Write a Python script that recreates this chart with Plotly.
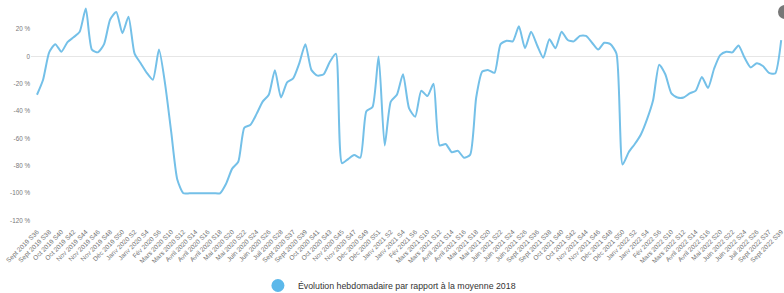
import plotly.graph_objects as go

categories = [
    "Sept 2019 S36", "Sept 2019 S37", "Sept 2019 S38", "Sept 2019 S39", "Oct 2019 S40", "Oct 2019 S41",
    "Oct 2019 S42", "Oct 2019 S43", "Nov 2019 S44", "Nov 2019 S45", "Nov 2019 S46", "Nov 2019 S47",
    "Nov 2019 S48", "Nov 2019 S49", "Déc 2019 S50", "Déc 2019 S51",
    "Janv 2020 S2", "Janv 2020 S3", "Janv 2020 S4", "Janv 2020 S5", "Fév 2020 S6", "Fév 2020 S7",
    "Mars 2020 S10", "Mars 2020 S11", "Mars 2020 S12", "Mars 2020 S13", "Avril 2020 S14", "Avril 2020 S15",
    "Avril 2020 S16", "Avril 2020 S17", "Avril 2020 S18", "Avril 2020 S19", "Mai 2020 S20", "Mai 2020 S21",
    "Mai 2020 S22", "Mai 2020 S23", "Juin 2020 S24", "Juin 2020 S25", "Juin 2020 S26", "Juin 2020 S27",
    "Juil 2020 S28", "Juil 2020 S29",
    "Sept 2020 S37", "Sept 2020 S38", "Sept 2020 S39", "Sept 2020 S40", "Oct 2020 S41", "Oct 2020 S42",
    "Oct 2020 S43", "Oct 2020 S44", "Nov 2020 S45", "Nov 2020 S46", "Nov 2020 S47", "Nov 2020 S48",
    "Déc 2020 S49", "Déc 2020 S50", "Déc 2020 S51", "Déc 2020 S52",
    "Janv 2021 S2", "Janv 2021 S3", "Janv 2021 S4", "Janv 2021 S5", "Fév 2021 S6", "Fév 2021 S7",
    "Mars 2021 S10", "Mars 2021 S11", "Mars 2021 S12", "Mars 2021 S13", "Avril 2021 S14", "Avril 2021 S15",
    "Avril 2021 S16", "Avril 2021 S17", "Mai 2021 S18", "Mai 2021 S19", "Mai 2021 S20", "Mai 2021 S21",
    "Juin 2021 S22", "Juin 2021 S23", "Juin 2021 S24", "Juin 2021 S25", "Juin 2021 S26", "Juil 2021 S27",
    "Sept 2021 S36", "Sept 2021 S37", "Sept 2021 S38", "Sept 2021 S39", "Oct 2021 S40", "Oct 2021 S41",
    "Oct 2021 S42", "Oct 2021 S43", "Nov 2021 S44", "Nov 2021 S45", "Nov 2021 S46", "Nov 2021 S47",
    "Déc 2021 S48", "Déc 2021 S49", "Déc 2021 S50", "Déc 2021 S51",
    "Janv 2022 S2", "Janv 2022 S3", "Janv 2022 S4", "Janv 2022 S5", "Fév 2022 S6", "Fév 2022 S7",
    "Mars 2022 S10", "Mars 2022 S11", "Mars 2022 S12", "Mars 2022 S13", "Avril 2022 S14", "Avril 2022 S15",
    "Avril 2022 S16", "Avril 2022 S17", "Mai 2022 S20", "Mai 2022 S21", "Juin 2022 S22", "Juin 2022 S23",
    "Juin 2022 S24", "Juin 2022 S25", "Juil 2022 S26", "Juil 2022 S27",
    "Sept 2022 S37", "Sept 2022 S38", "Sept 2022 S39",
]

evolution = [
    -28, -17, 3, 9, 3.5, 10.5, 14, 18, 35, 5, 3, 9, 27, 32.5, 17, 29,
    2, -5, -12, -17, 5, -20, -55, -90, -100, -100, -100, -100, -100, -100,
    -100, -93, -82, -77, -52, -50, -42, -33, -28, -10, -30, -19,
    -16, -5, 9, -10, -14, -13, -4, 2, -78, -75, -72, -74, -40, -37, 0, -65,
    -33, -28, -13, -38, -44, -25, -29, -20, -65, -64, -70, -69, -74, -72,
    -30, -11, -10, -12, 9, 11.5, 11, 22, 6, 18,
    8, -1, 12.5, 6, 18, 12, 11, 15, 15, 10, 5, 10, 9, 2, -79, -70,
    -64, -57, -46, -32, -6, -13, -27, -30, -30, -27, -25, -15, -23, -9,
    1, 3.5, 3, 8, -1, -8,
    -5, -7, -12, -12.5, 12,
]

y_ticks = [20, 0, -20, -40, -60, -80, -100, -120]
y_tick_text = ["20 %", "0", "-20 %", "-40 %", "-60 %", "-80 %", "-100 %", "-120 %"]
series_name = "Évolution hebdomadaire par rapport à la moyenne 2018"

line_color = "#74c0e8"

fig = go.Figure()
fig.add_trace(go.Scatter(
    x=categories, y=evolution, mode="lines",
    line=dict(color=line_color, width=2, shape="spline", smoothing=0.6),
    name=series_name, showlegend=False,
))
fig.add_trace(go.Scatter(
    x=[None], y=[None], mode="markers",
    marker=dict(color="#5cb8ea", size=13),
    name=series_name, showlegend=True,
))

# plot area: x 31..784, y 5..222 (figure is 300 tall, page clips at 293)
fig.update_layout(
    width=784, height=300,
    margin=dict(l=31, r=0, t=5, b=78),
    paper_bgcolor="white", plot_bgcolor="white",
    font=dict(family="Liberation Sans, Arial, sans-serif", color="#666666"),
    legend=dict(orientation="h", x=0.476, xanchor="center", y=0.0, yref="container",
                yanchor="bottom", font=dict(size=8.8, color="#333333")),
    xaxis=dict(
        type="category", range=[-0.98, 122.46], automargin=False,
        tickmode="array", tickvals=categories[0::2], ticktext=categories[0::2],
        tickangle=-45, tickfont=dict(size=6.5, color="#707070"),
        ticklabelstandoff=4,
        showgrid=False, showline=False, ticks="", zeroline=False,
    ),
    yaxis=dict(
        range=[-121, 37.6], tickmode="array", tickvals=y_ticks, ticktext=y_tick_text,
        automargin=False,
        tickfont=dict(size=6.3, color="#777777"), showgrid=False,
        zeroline=True, zerolinecolor="#e6e6e6", zerolinewidth=1, ticks="",
    ),
    shapes=[dict(type="circle", xref="paper", yref="paper",
                 x0=0.992, x1=1.0106, y0=0.9355, y1=1.0,
                 fillcolor="#777777", line=dict(width=0), layer="above")],
)

fig.write_html("out.html", config={"displayModeBar": False},
               post_script="document.body.style.margin='0';document.body.style.overflow='hidden';")
